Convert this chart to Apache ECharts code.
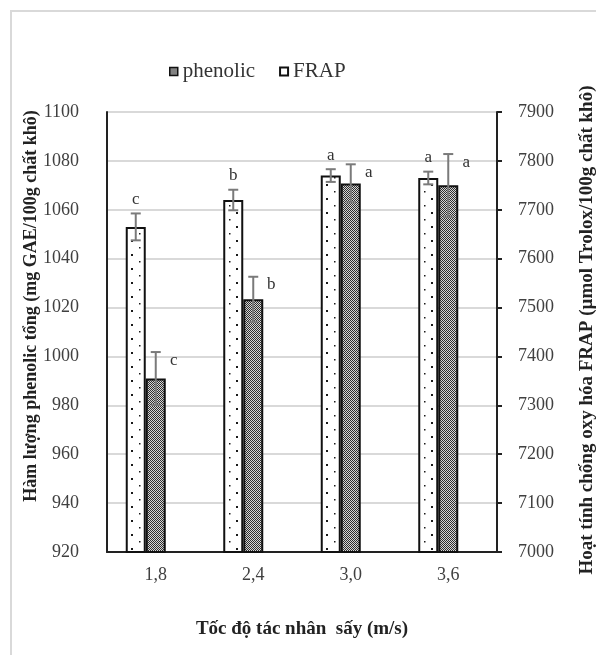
<!DOCTYPE html>
<html>
<head>
<meta charset="utf-8">
<script src="https://cdn.jsdelivr.net/npm/echarts@6/dist/echarts.min.js"></script>
<style>
html, body { margin: 0; padding: 0; background: #fff; }
#chart { width: 596px; height: 655px; }
</style>
</head>
<body>
<div id="chart"></div>
<script>
var categories = ['1,8', '2,4', '3,0', '3,6'];
var phenolicValues = [1053, 1064, 1074, 1073];
var phenolicErrors = [5.5, 4.2, 2.6, 2.6];
var phenolicLetters = ['c', 'b', 'a', 'a'];
var frapValues = [7355, 7517, 7754, 7750];
var frapErrors = [54, 46, 39, 64];
var frapLetters = ['c', 'b', 'a', 'a'];
var leftTicks = [920, 1100, 20];
var rightTicks = [7000, 7900, 100];

var SERIF = '"Liberation Serif", "Times New Roman", serif';

// white bar with sparse black dots
function dotPattern() {
    var c = document.createElement('canvas');
    c.width = 15; c.height = 14;
    var ctx = c.getContext('2d');
    ctx.fillStyle = '#fff';
    ctx.fillRect(0, 0, 15, 14);
    ctx.fillStyle = '#1a1a1a';
    ctx.fillRect(11, 2, 2, 2);
    ctx.fillRect(4, 9, 1.5, 1.5);
    return c;
}

// fine checker for the dark bars
function checkPattern() {
    var c = document.createElement('canvas');
    c.width = 2; c.height = 2;
    var ctx = c.getContext('2d');
    ctx.fillStyle = '#d6d6d6';
    ctx.fillRect(0, 0, 2, 2);
    ctx.fillStyle = '#2e2e2e';
    ctx.fillRect(0, 0, 1, 1);
    ctx.fillRect(1, 1, 1, 1);
    return c;
}

var dots = { image: dotPattern(), repeat: 'repeat' };
var checks = { image: checkPattern(), repeat: 'repeat' };

function plain(v) { return String(v); }

function errorSeries(values, errors, letters, axisIndex, shift, labelDx, labelDy, align) {
    return {
        type: 'custom',
        yAxisIndex: axisIndex,
        silent: true,
        z: 5,
        data: values.map(function (v, i) { return [i, v, errors[i]]; }),
        encode: { x: 0, y: 1 },
        renderItem: function (params, api) {
            var i = api.value(0), v = api.value(1), e = api.value(2);
            var top = api.coord([i, v + e]);
            var bot = api.coord([i, v - e]);
            var x = top[0] + shift;
            var st = { stroke: '#7a7a7a', lineWidth: 2 };
            return {
                type: 'group',
                children: [
                    { type: 'line', shape: { x1: x, y1: top[1], x2: x, y2: bot[1] }, style: st },
                    { type: 'line', shape: { x1: x - 5, y1: top[1], x2: x + 5, y2: top[1] }, style: st },
                    { type: 'line', shape: { x1: x - 5, y1: bot[1], x2: x + 5, y2: bot[1] }, style: st },
                    {
                        type: 'text',
                        style: {
                            text: letters[params.dataIndex],
                            x: x + labelDx, y: top[1] + labelDy,
                            textAlign: align, textVerticalAlign: 'middle',
                            font: '17px ' + SERIF, fill: '#333'
                        }
                    }
                ]
            };
        }
    };
}

var chart = echarts.init(document.getElementById('chart'));

var option = {
    backgroundColor: '#fff',
    animation: false,
    grid: { left: 107, right: 99, top: 112, bottom: 103 },
    legend: {
        left: 164, top: 56,
        icon: 'rect',
        itemWidth: 8, itemHeight: 8, itemGap: 24,
        data: [
            { name: 'phenolic', itemStyle: { color: checks, borderColor: '#111', borderWidth: 1.5 } },
            { name: 'FRAP', itemStyle: { color: '#fff', borderColor: '#111', borderWidth: 2 } }
        ],
        textStyle: { fontFamily: SERIF, fontSize: 21, color: '#333' }
    },
    graphic: [
        {
            type: 'rect', silent: true,
            shape: { x: 11, y: 11, width: 620, height: 680 },
            style: { fill: 'none', stroke: '#d9d9d9', lineWidth: 2 }
        },
        {
            type: 'text', x: 31, y: 306, rotation: Math.PI / 2,
            style: {
                text: 'Hàm lượng phenolic tổng (mg GAE/100g chất khô)',
                textAlign: 'center', textVerticalAlign: 'middle',
                font: 'bold 18px ' + SERIF, fill: '#222'
            }
        },
        {
            type: 'text', x: 587, y: 330, rotation: Math.PI / 2,
            style: {
                text: 'Hoạt tính chống oxy hóa FRAP (µmol Trolox/100g chất khô)',
                textAlign: 'center', textVerticalAlign: 'middle',
                font: 'bold 19px ' + SERIF, fill: '#222'
            }
        }
    ],
    xAxis: {
        type: 'category',
        data: categories,
        name: 'Tốc độ tác nhân  sấy (m/s)',
        nameLocation: 'middle',
        nameGap: 68,
        nameTextStyle: { fontFamily: SERIF, fontSize: 19, fontWeight: 'bold', color: '#222' },
        axisLine: { lineStyle: { color: '#222', width: 2 } },
        axisTick: { show: false },
        axisLabel: { fontFamily: SERIF, fontSize: 18, color: '#404040', margin: 14 }
    },
    yAxis: [
        {
            type: 'value',
            min: leftTicks[0], max: leftTicks[1], interval: leftTicks[2],
            axisLine: { show: true, lineStyle: { color: '#222', width: 2 } },
            axisTick: { show: false },
            axisLabel: { fontFamily: SERIF, fontSize: 18, color: '#404040', margin: 28, formatter: plain },
            splitLine: { lineStyle: { color: '#d9d9d9', width: 2 } }
        },
        {
            type: 'value',
            min: rightTicks[0], max: rightTicks[1], interval: rightTicks[2],
            position: 'right',
            axisLine: { show: true, lineStyle: { color: '#222', width: 2 } },
            axisTick: { show: true, length: 5, lineStyle: { color: '#222', width: 2 } },
            axisLabel: { fontFamily: SERIF, fontSize: 18, color: '#404040', margin: 21, formatter: plain },
            splitLine: { show: false }
        }
    ],
    series: [
        {
            name: 'phenolic', type: 'bar', yAxisIndex: 0,
            barWidth: 20, barGap: '0%',
            data: phenolicValues,
            itemStyle: { color: dots, borderColor: '#111', borderWidth: 2 }
        },
        {
            name: 'FRAP', type: 'bar', yAxisIndex: 1,
            barWidth: 20, barGap: '0%',
            data: frapValues,
            itemStyle: { color: checks, borderColor: '#111', borderWidth: 2 }
        },
        {
            // empty slot so the pair sits left of the category centre
            name: 'spacer', type: 'bar', yAxisIndex: 0,
            barWidth: 20, barGap: '0%',
            data: []
        },
        errorSeries(phenolicValues, phenolicErrors, phenolicLetters, 0, -20, 0, -14, 'center'),
        errorSeries(frapValues, frapErrors, frapLetters, 1, 0, 18, 8, 'center')
    ]
};

chart.setOption(option);
</script>
</body>
</html>
